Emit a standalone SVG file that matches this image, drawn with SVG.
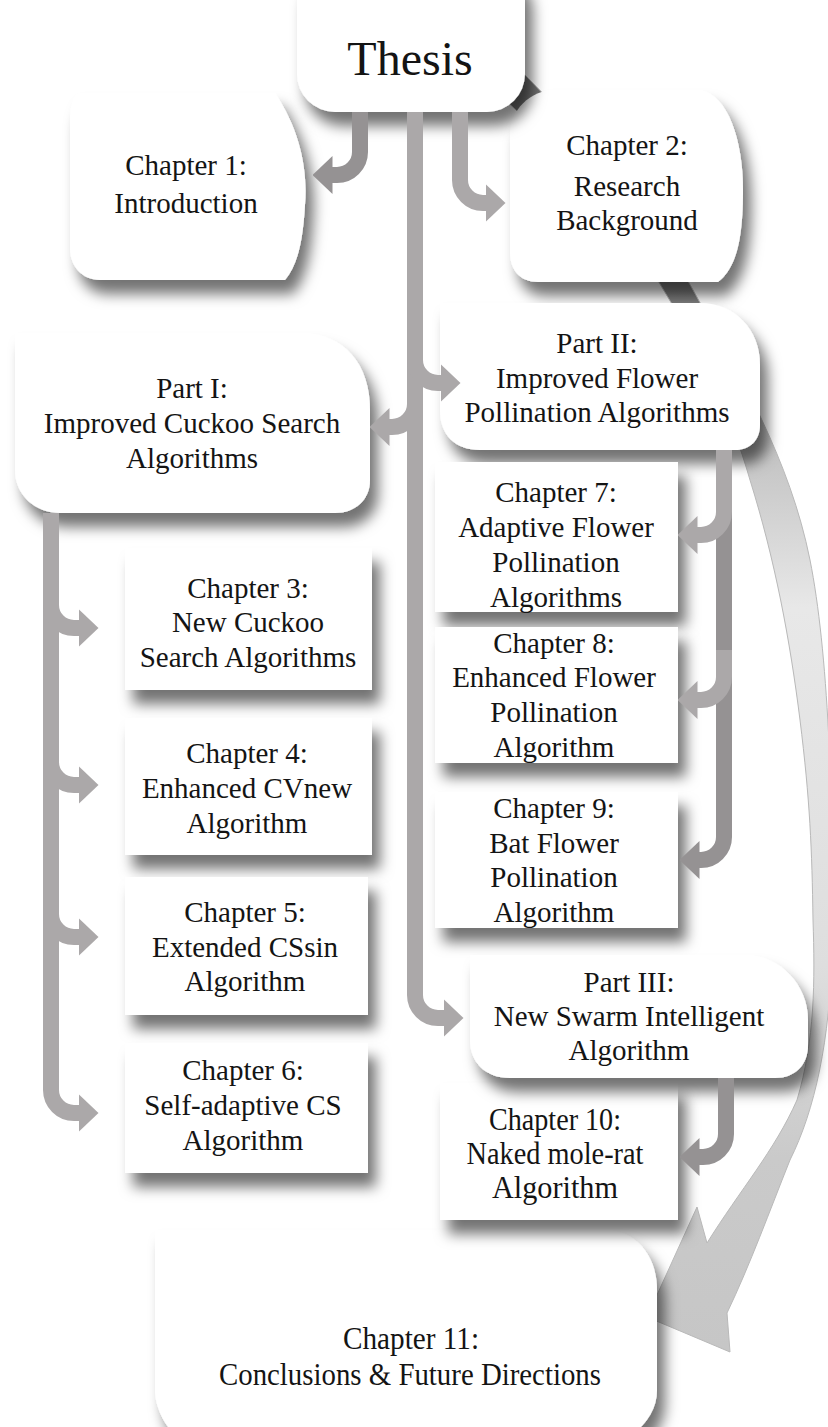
<svg xmlns="http://www.w3.org/2000/svg" width="828" height="1427" viewBox="0 0 828 1427">
<style>
.node{fill:#ffffff;filter:url(#sh)}
.t{font-family:"Liberation Serif","Times New Roman",serif;font-size:29px;fill:#141414;text-anchor:middle}
.tc{font-family:"Liberation Serif","Times New Roman",serif;font-size:31px;fill:#141414;text-anchor:middle}
.bar{fill:none;stroke:#aba8a9;stroke-width:16;stroke-linecap:butt;marker-end:url(#ah)}
.bard{fill:none;stroke:#959293;stroke-width:16;stroke-linecap:butt;marker-end:url(#ahd)}
.band{fill:url(#bandg);stroke:#b9b9b9;stroke-width:1}
</style>
<defs>
<filter id="sh" x="-20%" y="-20%" width="150%" height="170%">
<feDropShadow dx="8" dy="14" stdDeviation="7" flood-color="#000" flood-opacity="0.55"/>
</filter>
<marker id="ah" markerUnits="userSpaceOnUse" markerWidth="20" markerHeight="38" viewBox="0 0 20 38" refX="0.5" refY="19" orient="auto">
<path d="M0,0 L20,19 L0,38 Z" fill="#aba8a9"/>
</marker>
<marker id="ahd" markerUnits="userSpaceOnUse" markerWidth="20" markerHeight="38" viewBox="0 0 20 38" refX="0.5" refY="19" orient="auto">
<path d="M0,0 L20,19 L0,38 Z" fill="#959293"/>
</marker>
<linearGradient id="bandg" gradientUnits="userSpaceOnUse" x1="0" y1="70" x2="0" y2="1350">
<stop offset="0" stop-color="#6f6f6f"/>
<stop offset="0.18" stop-color="#7d7d7d"/>
<stop offset="0.3" stop-color="#c4c4c4"/>
<stop offset="0.42" stop-color="#e8e8e8"/>
<stop offset="0.7" stop-color="#dedede"/>
<stop offset="0.85" stop-color="#cacaca"/>
<stop offset="1" stop-color="#c6c6c6"/>
</linearGradient>
</defs>
<rect width="828" height="1427" fill="#ffffff"/>

<g id="connectors-back">
<path class="band" d="M520,70 C610,160 660,230 693,290 C740,375 790,460 810,560 C828,650 834,800 832,950 C830,1040 815,1110 790,1160 C770,1210 750,1265 727,1313 L730,1352 L647,1317 L697,1207 L707,1243 C740,1190 775,1150 797,1100 C815,1040 815,980 813,920 C812,850 810,800 800,720 C790,640 775,560 750,480 C730,410 700,350 660,284 C620,215 560,150 500,95 Z"/>
</g>

<g id="n-ch11">
<path class="node" d="M155,1230 H605 C635,1230 657,1255 657,1290 V1390 C657,1410 645,1427 625,1440 H190 C170,1440 155,1410 155,1390 Z"/>
<text class="tc" x="411" y="1349" textLength="136" lengthAdjust="spacingAndGlyphs">Chapter 11:</text>
<text class="tc" x="410" y="1385" textLength="382" lengthAdjust="spacingAndGlyphs">Conclusions &amp; Future Directions</text>
</g>

<g id="n-ch1">
<path class="node" d="M80,93 H275 C300,130 308,170 305,205 C303,240 298,265 285,280 H100 C82,280 70,266 70,248 V120 C70,102 76,93 80,93 Z"/>
<text class="t" x="186" y="175">Chapter 1:</text>
<text class="t" x="186" y="213">Introduction</text>
</g>

<g id="n-ch2">
<path class="node" d="M555,90 H700 C728,95 743,140 743,190 C743,240 736,268 718,282 H538 C520,282 510,270 510,252 V135 C510,110 530,90 555,90 Z"/>
<text class="t" x="627" y="155">Chapter 2:</text>
<text class="t" x="627" y="196">Research</text>
<text class="t" x="627" y="230">Background</text>
</g>

<g id="n-thesis">
<rect class="node" x="297" y="-40" width="228" height="152" rx="38"/>
<text class="t" x="410" y="75" style="font-size:48px">Thesis</text>
</g>

<g id="n-part2">
<path class="node" d="M440,303 H700 C735,303 760,330 760,365 V425 C760,440 750,450 735,450 H480 C455,450 440,435 440,410 Z"/>
<text class="t" x="597" y="353">Part II:</text>
<text class="t" x="597" y="388">Improved Flower</text>
<text class="t" x="597" y="422">Pollination Algorithms</text>
</g>

<g id="n-part1">
<path class="node" d="M15,333 H300 C345,333 370,365 370,410 V480 C370,500 355,513 335,513 H60 C35,513 15,495 15,470 Z"/>
<text class="t" x="192" y="398">Part I:</text>
<text class="t" x="192" y="433">Improved Cuckoo Search</text>
<text class="t" x="192" y="468">Algorithms</text>
</g>

<g id="n-ch3">
<rect class="node" x="125" y="548" width="247" height="142"/>
<text class="t" x="248" y="598">Chapter 3:</text>
<text class="t" x="248" y="632">New Cuckoo</text>
<text class="t" x="248" y="667">Search Algorithms</text>
</g>

<g id="n-ch4">
<rect class="node" x="125" y="718" width="247" height="137"/>
<text class="t" x="247" y="763">Chapter 4:</text>
<text class="t" x="247" y="798">Enhanced CVnew</text>
<text class="t" x="247" y="833">Algorithm</text>
</g>

<g id="n-ch5">
<rect class="node" x="125" y="877" width="243" height="138"/>
<text class="t" x="245" y="922">Chapter 5:</text>
<text class="t" x="245" y="957">Extended CSsin</text>
<text class="t" x="245" y="991">Algorithm</text>
</g>

<g id="n-ch6">
<rect class="node" x="125" y="1043" width="243" height="130"/>
<text class="t" x="243" y="1080">Chapter 6:</text>
<text class="t" x="243" y="1115">Self-adaptive CS</text>
<text class="t" x="243" y="1150">Algorithm</text>
</g>

<g id="n-ch7">
<rect class="node" x="435" y="462" width="243" height="150"/>
<text class="t" x="556" y="502">Chapter 7:</text>
<text class="t" x="556" y="537">Adaptive Flower</text>
<text class="t" x="556" y="572">Pollination</text>
<text class="t" x="556" y="607">Algorithms</text>
</g>

<g id="n-ch8">
<rect class="node" x="435" y="627" width="243" height="136"/>
<text class="t" x="554" y="653">Chapter 8:</text>
<text class="t" x="554" y="687">Enhanced Flower</text>
<text class="t" x="554" y="722">Pollination</text>
<text class="t" x="554" y="757">Algorithm</text>
</g>

<g id="n-ch9">
<rect class="node" x="435" y="792" width="243" height="136"/>
<text class="t" x="554" y="818">Chapter 9:</text>
<text class="t" x="554" y="853">Bat Flower</text>
<text class="t" x="554" y="887">Pollination</text>
<text class="t" x="554" y="922">Algorithm</text>
</g>

<g id="n-ch10">
<rect class="node" x="440" y="1083" width="238" height="137"/>
<text class="tc" x="555" y="1130" textLength="132" lengthAdjust="spacingAndGlyphs">Chapter 10:</text>
<text class="tc" x="555" y="1164" textLength="177" lengthAdjust="spacingAndGlyphs">Naked mole-rat</text>
<text class="tc" x="555" y="1198" textLength="126" lengthAdjust="spacingAndGlyphs">Algorithm</text>
</g>

<g id="n-part3">
<path class="node" d="M470,955 H745 C780,955 808,985 808,1020 V1045 C808,1065 795,1078 775,1078 H510 C485,1078 470,1062 470,1040 Z"/>
<text class="t" x="629" y="992">Part III:</text>
<text class="t" x="629" y="1026">New Swarm Intelligent</text>
<text class="t" x="629" y="1060">Algorithm</text>
</g>

<g id="connectors">
<path class="bard" d="M360,112 V152 A23,23 0 0 1 337,175 H332"/>
<path class="bar" d="M460,112 V180 A23,23 0 0 0 483,203 H486"/>
<path class="bar" d="M415,112 V995 A23,23 0 0 0 438,1018 H444"/>
<path class="bar" d="M415,340 V360 A23,23 0 0 0 438,383 H441"/>
<path class="bar" d="M415,380 V404 A23,23 0 0 1 392,427 H389"/>
<path class="bar" d="M51,513 V1090 A23,23 0 0 0 74,1113 H79"/>
<path class="bar" d="M51,580 V605 A23,23 0 0 0 74,628 H79"/>
<path class="bar" d="M51,740 V762 A23,23 0 0 0 74,785 H79"/>
<path class="bar" d="M51,890 V914 A23,23 0 0 0 74,937 H79"/>
<path class="bard" d="M724,450 V837 A23,23 0 0 1 701,860 H699"/>
<path class="bar" d="M724,450 V512 A23,23 0 0 1 701,535 H697"/>
<path class="bar" d="M724,650 V677 A23,23 0 0 1 701,700 H697"/>
<path class="bard" d="M726,1078 V1134 A23,23 0 0 1 703,1157 H699"/>
</g>
</svg>
